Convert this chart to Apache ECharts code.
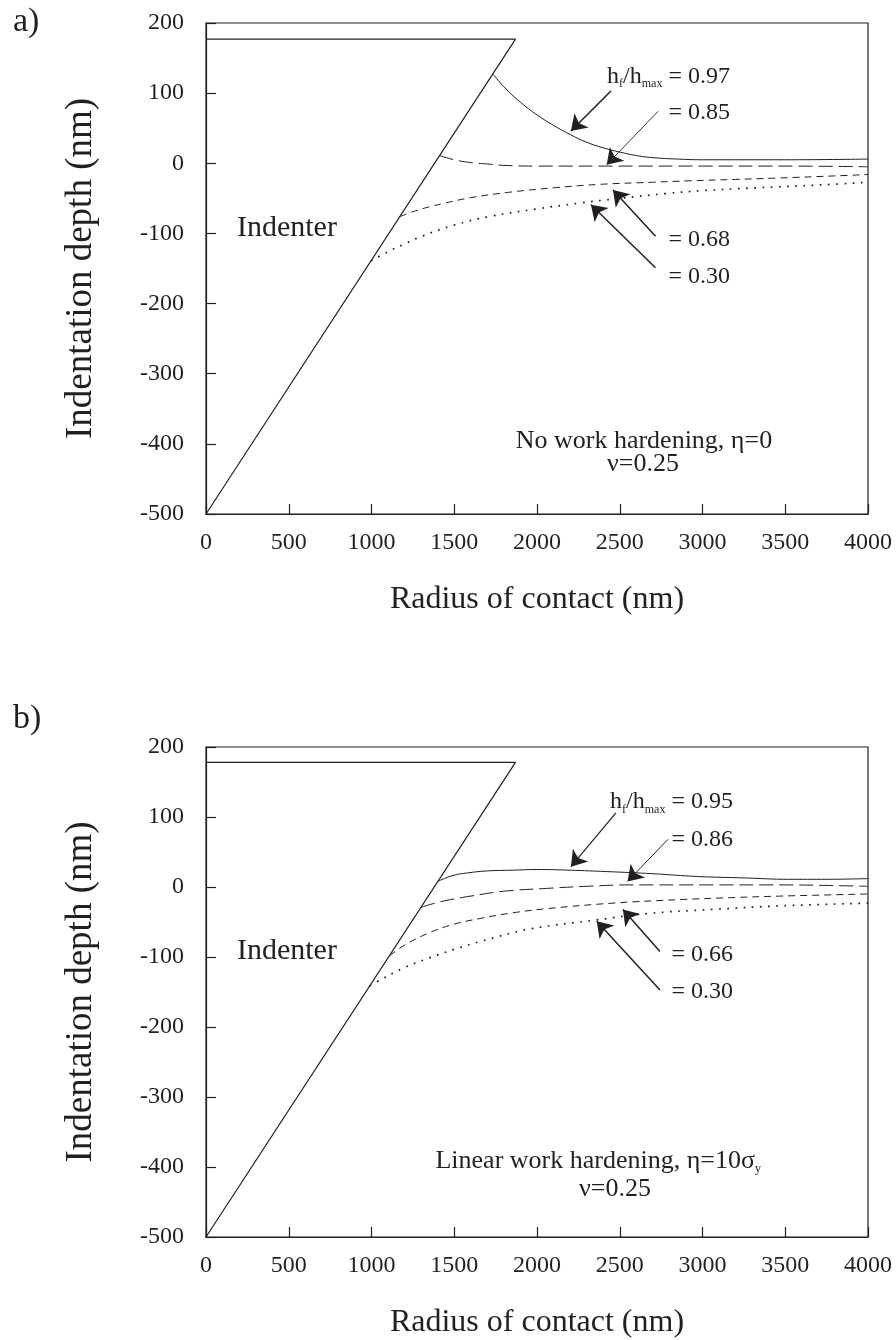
<!DOCTYPE html>
<html>
<head>
<meta charset="utf-8">
<title>Indentation depth vs radius of contact</title>
<script src="https://cdn.jsdelivr.net/npm/echarts@6/dist/echarts.min.js"></script>
<style>
  html, body { margin: 0; padding: 0; background: #fff; }
  #main { width: 896px; height: 1340px; }
</style>
</head>
<body>
<div id="main"></div>
<script>
// ---- data (radius nm, depth nm) ----
// a) no work hardening
var indenterA = [[0, -500], [1870, 177], [0, 177]];
var a97 = [[1735, 127], [1800, 109], [1900, 87], [2000, 69], [2100, 54], [2200, 41], [2300, 30], [2400, 22], [2500, 16], [2600, 11], [2700, 8], [2850, 6], [3000, 5], [3500, 5], [4000, 6]];
var a85 = [[1411, 11], [1500, 5], [1600, 1], [1700, -1], [1800, -3], [2000, -4], [2500, -4], [3000, -4], [3500, -4], [4000, -5]];
var a68 = [[1172, -76], [1250, -69], [1350, -62], [1440, -57], [1600, -49], [1843, -41], [2100, -35], [2381, -30], [2700, -27], [2918, -25], [3200, -23], [3456, -21], [3800, -18], [4000, -16]];
var a30 = [[997, -139], [1100, -126], [1200, -115], [1305, -104], [1500, -88], [1710, -76], [2000, -65], [2248, -57], [2500, -50], [2785, -43], [3000, -39], [3321, -35], [3700, -31], [4000, -27]];

// b) linear work hardening
var indenterB = [[0, -500], [1870, 178], [0, 178]];
var b95 = [[1400, 8], [1450, 13], [1500, 17], [1575, 20], [1700, 23], [1850, 24], [2000, 25], [2200, 24], [2424, 22], [2700, 19], [2971, 15], [3250, 13], [3520, 11], [3750, 11], [4000, 12]];
var b86 = [[1300, -29], [1400, -22], [1500, -17], [1600, -13], [1800, -6], [2058, -2], [2300, 1], [2562, 3], [3000, 3], [3500, 3], [3800, 2], [4000, 1]];
var b66 = [[1110, -98], [1200, -83], [1353, -65], [1500, -53], [1655, -45], [1850, -37], [2058, -31], [2460, -23], [2864, -18], [3200, -15], [3468, -13], [4000, -10]];
var b30 = [[990, -141], [1051, -133], [1200, -115], [1353, -101], [1500, -89], [1655, -78], [1958, -60], [2361, -47], [2663, -38], [3063, -32], [3468, -27], [4000, -23]];

// annotation labels and arrows: [text, x, y] / [fromX, fromY, toX, toY, width]
var labelsA = [['h{s|f}/h{s|max} = 0.97', 3166, 124], ['= 0.85', 3166, 72], ['= 0.68', 3166, -109], ['= 0.30', 3166, -161]];
var arrowsA = [[2447, 103, 2205, 46, 1.5], [2731, 74, 2421, -2, 0.9], [2716, -104, 2459, -38, 1.5], [2716, -149, 2326, -59, 1.5]];
var labelsB = [['h{s|f}/h{s|max} = 0.95', 3184, 122], ['= 0.86', 3184, 68], ['= 0.66', 3184, -97], ['= 0.30', 3184, -149]];
var arrowsB = [[2477, 106, 2205, 29, 1.2], [2791, 68, 2547, 8, 1], [2743, -92, 2519, -32, 1.5], [2743, -147, 2361, -49, 1.5]];
var notesA = [['No work hardening, η=0', 2646, -396], ['ν=0.25', 2640, -429]];
var notesB = [['Linear work hardening, η=10σ{s|y}', 2370, -391], ['ν=0.25', 2471, -431]];

var ink = '#231f20';
var font = "'Liberation Serif', 'DejaVu Serif', serif";

var dom = document.getElementById('main');
var myChart = echarts.init(dom);

function xAxisFor(i) {
    return {
        gridIndex: i,
        type: 'value',
        min: 0,
        max: 4000,
        interval: 500,
        name: 'Radius of contact (nm)',
        nameLocation: 'middle',
        nameGap: 70,
        nameTextStyle: { fontSize: 32, color: ink, fontFamily: font },
        axisLine: { onZero: false, lineStyle: { color: ink, width: 1.2 } },
        axisTick: { inside: true, length: 10, lineStyle: { color: ink, width: 1.2 } },
        axisLabel: {
            fontSize: 24, color: ink, fontFamily: font, margin: 17,
            formatter: function (v) { return String(v); }
        },
        splitLine: { show: false }
    };
}

function yAxisFor(i) {
    return {
        gridIndex: i,
        type: 'value',
        min: -500,
        max: 200,
        interval: 100,
        name: 'Indentation depth (nm)',
        nameLocation: 'middle',
        nameRotate: 90,
        nameGap: 106,
        nameTextStyle: { fontSize: 37, color: ink, fontFamily: font },
        axisLine: { onZero: false, lineStyle: { color: ink, width: 1.2 } },
        axisTick: { inside: true, length: 10, lineStyle: { color: ink, width: 1.2 } },
        axisLabel: {
            fontSize: 24, color: ink, fontFamily: font, margin: 22,
            formatter: function (v) { return String(v); }
        },
        splitLine: { show: false }
    };
}

function curve(i, data, type) {
    var dotted = type === 'dots';
    return {
        type: 'line',
        xAxisIndex: i,
        yAxisIndex: i,
        data: data,
        smooth: 0.4,
        showSymbol: false,
        silent: true,
        lineStyle: { color: ink, width: dotted ? 1.7 : 1, type: dotted ? [1.7, 6.5] : type, cap: 'butt' }
    };
}

var subStyle = {
    s: { fontSize: 12, lineHeight: 12, verticalAlign: 'bottom', fontFamily: font, color: ink }
};

function textPoints(list, align, size) {
    return list.map(function (t) {
        return {
            coord: [t[1], t[2]],
            symbol: 'circle',
            symbolSize: 1,
            itemStyle: { color: 'rgba(0,0,0,0)' },
            label: {
                show: true,
                position: 'inside',
                formatter: t[0],
                align: align,
                verticalAlign: 'middle',
                fontSize: size,
                lineHeight: 28,
                color: ink,
                fontFamily: font,
                rich: subStyle
            }
        };
    });
}

function arrowLines(list) {
    return list.map(function (a) {
        return [
            { coord: [a[0], a[1]], lineStyle: { width: a[4] } },
            { coord: [a[2], a[3]] }
        ];
    });
}

function indenter(i, data, labels, arrows, notes) {
    var s = curve(i, data, 'solid');
    s.smooth = false;
    s.lineStyle.width = 1.2;
    s.markLine = {
        silent: true,
        symbol: ['none', 'arrow'],
        symbolSize: 15,
        label: { show: false },
        lineStyle: { color: ink, type: 'solid', width: 1.5 },
        itemStyle: { color: ink },
        emphasis: { disabled: true },
        data: arrowLines(arrows)
    };
    s.markPoint = {
        silent: true,
        data: textPoints(labels, 'right', 24)
            .concat(textPoints(notes, 'center', 26))
            .concat(textPoints([['Indenter', 187, -92]], 'left', 30))
    };
    return s;
}

option = {
    animation: false,
    backgroundColor: '#fff',
    title: [
        { text: 'a)', left: 8, top: 0, textStyle: { fontSize: 34, fontWeight: 'normal', color: ink, fontFamily: font } },
        { text: 'b)', left: 8, top: 697, textStyle: { fontSize: 34, fontWeight: 'normal', color: ink, fontFamily: font } }
    ],
    grid: [
        { left: 206, top: 23, width: 662, height: 491, show: true, borderColor: ink, borderWidth: 1.2 },
        { left: 206, top: 747, width: 662, height: 490, show: true, borderColor: ink, borderWidth: 1.2 }
    ],
    xAxis: [xAxisFor(0), xAxisFor(1)],
    yAxis: [yAxisFor(0), yAxisFor(1)],
    series: [
        indenter(0, indenterA, labelsA, arrowsA, notesA),
        curve(0, a97, 'solid'),
        curve(0, a85, [14, 6]),
        curve(0, a68, [7, 5]),
        curve(0, a30, 'dots'),
        indenter(1, indenterB, labelsB, arrowsB, notesB),
        curve(1, b95, 'solid'),
        curve(1, b86, [14, 6]),
        curve(1, b66, [7, 5]),
        curve(1, b30, 'dots')
    ]
};

myChart.setOption(option, true);
</script>
</body>
</html>
